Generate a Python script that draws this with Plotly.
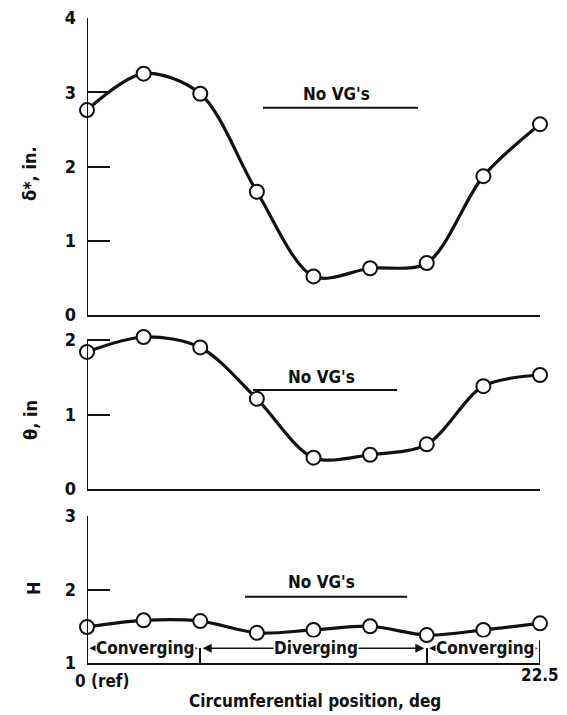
import plotly.graph_objects as go
from plotly.subplots import make_subplots

# ---- data ----
positions_deg = [0.0, 2.8125, 5.625, 8.4375, 11.25, 14.0625, 16.875, 19.6875, 22.5]
delta_star_in = [2.76, 3.25, 2.98, 1.66, 0.52, 0.63, 0.70, 1.87, 2.57]
theta_in = [1.84, 2.04, 1.90, 1.21, 0.42, 0.46, 0.60, 1.38, 1.53]
shape_factor_H = [1.49, 1.58, 1.57, 1.41, 1.45, 1.50, 1.38, 1.45, 1.54]

region_bounds = [0.0, 5.625, 16.875, 22.5]
region_labels = ["Converging", "Diverging", "Converging"]

ytick_top = [0, 1, 2, 3, 4]
ytick_mid = [0, 1, 2]
ytick_bot = [1, 2, 3]
x_tick_labels = ["0 (ref)", "22.5"]

FONT = "Liberation Sans Narrow, Arial Narrow, DejaVu Sans Condensed, sans-serif"
BLACK = "#111111"

fig = make_subplots(rows=3, cols=1)

for row, vals in zip([1, 2, 3], [delta_star_in, theta_in, shape_factor_H]):
    fig.add_trace(go.Scatter(
        x=positions_deg, y=vals, mode="lines+markers",
        line=dict(color=BLACK, width=3.2, shape="spline", smoothing=0.9),
        marker=dict(size=14, color="white", line=dict(color=BLACK, width=2)),
        cliponaxis=False, showlegend=False, hoverinfo="skip"), row=row, col=1)

xdom = [87 / 567, 540 / 567]
ydoms = [[1 - 315 / 715, 1 - 18 / 715],
         [1 - 489 / 715, 1 - (489 - 2.2 * 74.5) / 715],
         [1 - 663 / 715, 1 - 516 / 715]]
yranges = [[0, 4], [0, 2.2], [1, 3]]
yticks = [ytick_top, ytick_mid, ytick_bot]
ytops = [4, 2, 3]

shapes = []
for i in range(3):
    n = "" if i == 0 else str(i + 1)
    fig.layout["xaxis" + n].update(
        domain=xdom, range=[0, 22.5], showline=True, linecolor=BLACK, linewidth=2,
        showgrid=False, zeroline=False, showticklabels=False, automargin=False,
        ticks="inside", tickcolor=BLACK, tickwidth=2,
        tickvals=[22.5] if i < 2 else region_bounds[1:3],
        ticklen=24 if i < 2 else 15)
    fig.layout["yaxis" + n].update(
        domain=ydoms[i], range=yranges[i], showline=False, automargin=False,
        showgrid=False, zeroline=False, ticks="inside", ticklen=23, tickwidth=1.5,
        tickcolor=BLACK, tickvals=yticks[i], ticktext=[str(v) for v in yticks[i]],
        tickfont=dict(family=FONT, size=18, color=BLACK, weight="bold"),
        ticklabelstandoff=10)
    shapes.append(dict(type="line", xref="x" + n, yref="y" + n, x0=0, x1=0,
                       y0=yranges[i][0], y1=ytops[i], line=dict(color=BLACK, width=2)))

annotations = []

# No VG's labels with lines
novg = [("x", "y", 12.4, 2.97, 8.74, 16.44, 2.79),
        ("x2", "y2", 11.67, 1.50, 8.25, 15.4, 1.33),
        ("x3", "y3", 11.64, 2.10, 7.85, 15.9, 1.90)]
for xr, yr, tx, ty, x0, x1, ly in novg:
    annotations.append(dict(xref=xr, yref=yr, x=tx, y=ty, text="No VG's", showarrow=False,
                            xanchor="center", yanchor="middle",
                            font=dict(family=FONT, size=17, color=BLACK, weight="bold")))
    shapes.append(dict(type="line", xref=xr, yref=yr, x0=x0, x1=x1, y0=ly, y1=ly,
                       line=dict(color=BLACK, width=2)))

# converging/diverging region arrows
yl = 1.2
for (a, b) in zip(region_bounds[:-1], region_bounds[1:]):
    m = (a + b) / 2
    for end in (a, b):
        annotations.append(dict(xref="x3", yref="y3", axref="x3", ayref="y3",
                                x=end + (0.12 if end == a else -0.12), y=yl, ax=m, ay=yl,
                                text="", showarrow=True, arrowhead=2, arrowsize=1.2,
                                arrowwidth=1.5, arrowcolor=BLACK))
for (a, b), lab in zip(zip(region_bounds[:-1], region_bounds[1:]), region_labels):
    m = (a + b) / 2
    annotations.append(dict(xref="x3", yref="y3", x=m + 0.1, y=yl, text=lab, showarrow=False,
                            xanchor="center", yanchor="middle", bgcolor="white", borderpad=0,
                            font=dict(family=FONT, size=17, color=BLACK, weight="bold")))
shapes.append(dict(type="line", xref="x3", yref="y3", x0=22.5, x1=23.15, y0=yl, y1=yl,
                   line=dict(color=BLACK, width=1.5)))
shapes.append(dict(type="line", xref="x3", yref="y3", x0=22.5, x1=22.5, y0=1.0, y1=1.31,
                   line=dict(color=BLACK, width=2)))

# x tick labels
annotations.append(dict(xref="x3", yref="paper", x=0, y=1 - 681 / 715, text=x_tick_labels[0],
                        xanchor="left", yanchor="middle", xshift=-14, showarrow=False,
                        font=dict(family=FONT, size=17, color=BLACK, weight="bold")))
annotations.append(dict(xref="x3", yref="paper", x=22.5, y=1 - 675 / 715, text=x_tick_labels[1],
                        xanchor="center", yanchor="middle", showarrow=False,
                        font=dict(family=FONT, size=17, color=BLACK, weight="bold")))
# x axis title
annotations.append(dict(xref="paper", yref="paper", x=315 / 567, y=1 - 701 / 715,
                        text="Circumferential position, deg", showarrow=False,
                        xanchor="center", yanchor="middle",
                        font=dict(family=FONT, size=17, color=BLACK, weight="bold")))
# y axis titles
for txt, px, py in [("δ*, in.", 29, 174), ("θ, in", 30, 420), ("H", 33, 588)]:
    annotations.append(dict(xref="paper", yref="paper", x=px / 567, y=1 - py / 715, text=txt,
                            textangle=-90, showarrow=False, xanchor="center", yanchor="middle",
                            font=dict(family=FONT, size=18, color=BLACK, weight="bold")))

fig.update_layout(width=567, height=715, margin=dict(l=0, r=0, t=0, b=0),
                  paper_bgcolor="white", plot_bgcolor="white",
                  annotations=annotations, shapes=shapes)

fig.write_html("out.html", config={"displayModeBar": False},
               post_script="document.body.style.margin='0';document.body.style.overflow='hidden';")
